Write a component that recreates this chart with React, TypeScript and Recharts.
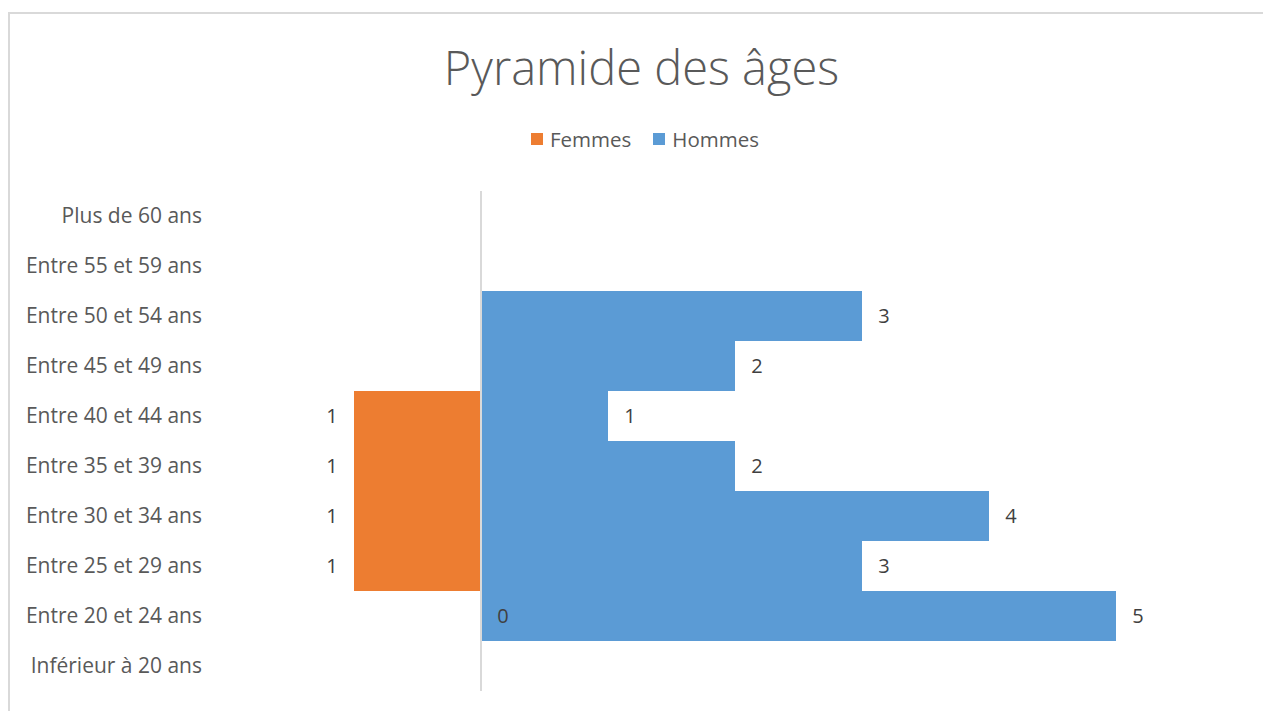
import { BarChart, Bar, XAxis, YAxis, ReferenceLine, LabelList } from "recharts";

const categories = [
  "Plus de 60 ans",
  "Entre 55 et 59 ans",
  "Entre 50 et 54 ans",
  "Entre 45 et 49 ans",
  "Entre 40 et 44 ans",
  "Entre 35 et 39 ans",
  "Entre 30 et 34 ans",
  "Entre 25 et 29 ans",
  "Entre 20 et 24 ans",
  "Inférieur à 20 ans",
];
// femmes are plotted to the left, so stored as negatives
const femmes = [null, null, null, null, -1, -1, -1, -1, 0, null];
const hommes = [null, null, 3, 2, 1, 2, 4, 3, 5, null];

const ORANGE = "#ED7D31";
const BLUE = "#5B9BD5";
const FONT = "'Open Sans', sans-serif";

const data = categories.map((c, i) => ({ cat: c, femmes: femmes[i], hommes: hommes[i] }));

function labelText(tx: number, y: number, v: number) {
  return (
    <text x={tx} y={y} dy={7} textAnchor="middle" fill="#404040"
      style={{ fontFamily: FONT, fontSize: 20 }}>
      {Math.abs(v)}
    </text>
  );
}

function ValueLabel(props: any) {
  const { x, y, width, height, value } = props;
  if (value === null || value === undefined || Array.isArray(value)) return null;
  const left = Math.min(x, x + width);
  const right = Math.max(x, x + width);
  return labelText(value < 0 ? left - 22 : right + 22, y + height / 2, value);
}

function FemmesLabel(props: any) {
  // zero values are drawn from the hommes layer so they stay on top
  if (props.value === 0) return null;
  return ValueLabel(props);
}

function FemmesZeroLabel(props: any) {
  const { x, y, width, height, value } = props;
  if (value !== 0) return null;
  return labelText(Math.min(x, x + width) + 22, y + height / 2, value);
}

export default function App() {
  return (
    <div style={{ position: "absolute", left: 0, top: 0, width: 1263, height: 711, overflow: "hidden", background: "#fff" }}>
      <div style={{ position: "absolute", left: 8, top: 12, width: 1300, height: 750, borderLeft: "2px solid #d9d9d9", borderTop: "2px solid #d9d9d9" }} />
      <div style={{ position: "absolute", left: 0, top: 35, width: 1283, textAlign: "center", fontFamily: FONT, fontWeight: 300, fontSize: 47, lineHeight: "64px", color: "#595959" }}>
        Pyramide des âges
      </div>
      <div style={{ position: "absolute", left: 531, top: 124, height: 30, display: "flex", alignItems: "center", fontFamily: FONT, fontSize: 20.5, color: "#595959" }}>
        <span style={{ width: 12, height: 12, background: ORANGE, marginRight: 7 }} />
        <span style={{ marginRight: 22 }}>Femmes</span>
        <span style={{ width: 12, height: 12, background: BLUE, marginRight: 7 }} />
        <span>Hommes</span>
      </div>
      <div style={{ position: "absolute", left: 0, top: 0 }}>
        <BarChart width={1263} height={711} data={data} layout="vertical"
          margin={{ top: 191, right: 20, bottom: 20, left: 0 }}
          barCategoryGap={0} stackOffset="sign">
          <XAxis type="number" domain={[-2, 6]} hide />
          <YAxis type="category" dataKey="cat" width={227} tickLine={false} axisLine={false}
            tickSize={0} tickMargin={25} interval={0}
            tick={{ fill: "#595959", fontSize: 21, fontFamily: FONT }} />
          <Bar dataKey="femmes" stackId="p" fill={ORANGE} isAnimationActive={false}>
            <LabelList dataKey="femmes" content={FemmesLabel} />
          </Bar>
          <Bar dataKey="hommes" stackId="p" fill={BLUE} isAnimationActive={false}>
            <LabelList dataKey="hommes" content={ValueLabel} />
            <LabelList dataKey="femmes" content={FemmesZeroLabel} />
          </Bar>
          <ReferenceLine x={0} stroke="#d9d9d9" strokeWidth={2} />
        </BarChart>
      </div>
    </div>
  );
}
